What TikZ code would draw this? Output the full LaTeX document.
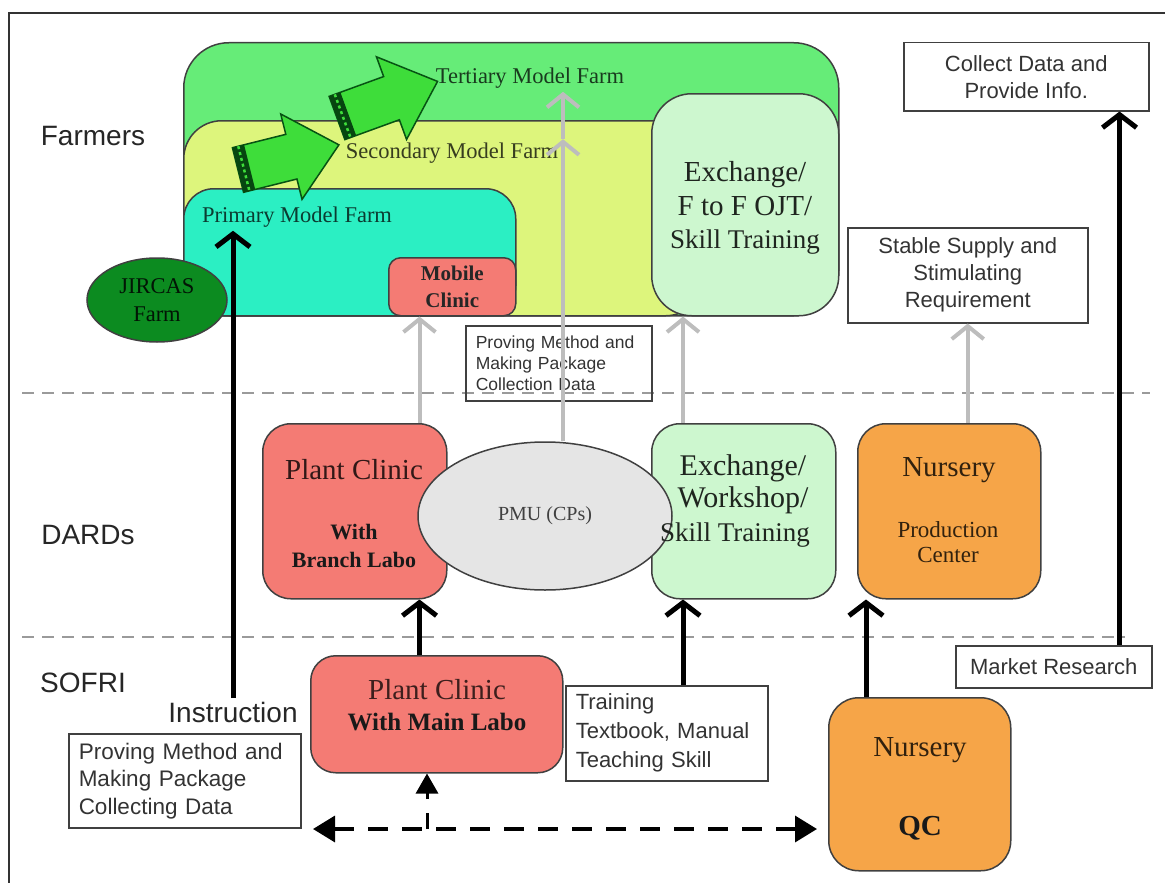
\documentclass[tikz,border=0pt]{standalone}
\usepackage{fontspec}
\setmainfont{Liberation Serif}
\setsansfont{Liberation Sans}
\usetikzlibrary{arrows.meta,shapes.geometric}

\definecolor{tertgreen}{HTML}{66EC78}
\definecolor{secyellow}{HTML}{DDF57C}
\definecolor{primcyan}{HTML}{2BEFC3}
\definecolor{mint}{HTML}{CDF7CF}
\definecolor{salmon}{HTML}{F47B74}
\definecolor{nurseorange}{HTML}{F6A548}
\definecolor{pmugray}{HTML}{E5E5E5}
\definecolor{jircasgreen}{HTML}{0C8B20}
\definecolor{blockgreen}{HTML}{3EDD3A}
\definecolor{arrowgray}{HTML}{BDBDBD}
\definecolor{sepgray}{HTML}{9A9A9A}

\tikzset{
  farmbox/.style={draw=black!75, line width=1.5pt, anchor=north west, inner sep=0pt},
  unitbox/.style={draw=black!75, line width=1.5pt, rounded corners=28pt, anchor=north west, inner sep=0pt},
  infobox/.style={draw=black!75, line width=1.5pt, anchor=north west, inner sep=0pt,
    font=\sffamily\fontsize{22}{27}\selectfont, text=black!80, align=center},
  farmtext/.style={font=\fontsize{22.5}{26}\selectfont},
  bigtext/.style={font=\fontsize{29}{33}\selectfont},
  smalltext/.style={font=\bfseries\fontsize{22}{28}\selectfont},
  sidetext/.style={font=\sffamily\fontsize{28}{32}\selectfont, text=black!85},
  blackarrow/.style={line width=5pt, -{Straight Barb[length=13pt,width=34pt]}},
  grayarrow/.style={arrowgray, line width=4pt, -{Straight Barb[length=13pt,width=32pt]}},
  separator/.style={sepgray, line width=2.5pt, dash pattern=on 12pt off 8pt},
  blockarrow/.style={fill=blockgreen, draw=jircasgreen!60!black, line width=1.5pt}
}

\begin{document}
\begin{tikzpicture}[x=1pt, y=-1pt]
\useasboundingbox (0,0) rectangle (1165,883);

% Frame and level separators
\draw[black!80, line width=1.5pt] (9,883) -- (9,13) -- (1165,13);
\draw[separator] (22,393) -- (1150,393);
\draw[separator] (22,637) -- (1125,637);

% Side labels
\node[sidetext] (farmers) at (93,136) {Farmers};
\node[sidetext] (dards) at (88,535) {DARDs};
\node[sidetext] (sofri) at (83,683) {SOFRI};
\node[sidetext] (instr) at (233,712) {Instruction};

% Model farm levels
\node[farmbox, fill=tertgreen, rounded corners=45pt, minimum width=655pt, minimum height=273pt] (tertiary) at (183,42) {};
\node[farmbox, fill=secyellow, rounded corners=38pt, minimum width=520pt, minimum height=195pt] (secondary) at (183,120) {};
\node[farmbox, fill=mint, rounded corners=40pt, minimum width=187pt, minimum height=222pt] (xchfarm) at (651,93) {};
\node[farmbox, fill=primcyan, rounded corners=30pt, minimum width=332pt, minimum height=127pt] (primary) at (183,188) {};
\node[farmbox, fill=salmon, rounded corners=12pt, minimum width=127pt, minimum height=58pt] (mobile) at (388,257) {};

% Green block arrows between levels
\begin{scope}[shift={(238,170)}, rotate=14]
  \draw[blockarrow] (0,-23) -- (55,-23) -- (55,-44) -- (104,0) -- (55,44) -- (55,23) -- (0,23) -- cycle;
  \fill[jircasgreen!50!black] (0,-23) rectangle (12,23);
  \draw[blockgreen, line width=2.5pt, dash pattern=on 3pt off 3pt] (6,-23) -- (6,23);
\end{scope}
\begin{scope}[shift={(337,118)}, rotate=20]
  \draw[blockarrow] (0,-23) -- (58,-23) -- (58,-44) -- (107,0) -- (58,44) -- (58,23) -- (0,23) -- cycle;
  \fill[jircasgreen!50!black] (0,-23) rectangle (12,23);
  \draw[blockgreen, line width=2.5pt, dash pattern=on 3pt off 3pt] (6,-23) -- (6,23);
\end{scope}

\node[farmtext, text=tertgreen!25!black] (tertlabel) at (530,78) {Tertiary Model Farm};
\node[farmtext, text=secyellow!25!black] (seclabel) at (452,153) {Secondary Model Farm};
\node[farmtext, text=primcyan!25!black] (primlabel) at (297,217) {Primary Model Farm};
\node[font=\bfseries\fontsize{21}{27}\selectfont, text=black!85, align=center] (mobilelabel) at (mobile.center) {Mobile\\Clinic};
\node[font=\fontsize{29}{33.5}\selectfont, text=mint!15!black, align=center] (xchfarmlabel) at (745,208) {Exchange/\\F to F OJT/\\{\fontsize{27}{33.5}\selectfont Skill Training}};

% JIRCAS farm
\node[ellipse, draw=black!75, line width=1.5pt, fill=jircasgreen, minimum width=140pt, minimum height=84pt, inner sep=0pt,
  font=\fontsize{22.5}{28}\selectfont, text=jircasgreen!15!black, align=center] (jircas) at (157,300) {JIRCAS\\Farm};

% Info boxes
\node[infobox, minimum width=245pt, minimum height=68pt] (collect) at (903,42) {Collect Data and\\Provide Info.};
\node[infobox, minimum width=240pt, minimum height=95pt] (stable) at (847,227) {Stable Supply and\\Stimulating\\Requirement};
\node[infobox, minimum width=186pt, minimum height=75pt, text width=166pt, align=left, inner xsep=10pt,
  font=\sffamily\fontsize{17.5}{21}\selectfont] (provemid) at (465,325) {Proving Method and\\Making Package\\Collection Data};
\node[infobox, minimum width=196pt, minimum height=42pt] (market) at (955,645) {Market Research};
\node[infobox, minimum width=202pt, minimum height=95pt, text width=182pt, align=left, inner xsep=10pt,
  font=\sffamily\fontsize{22}{29}\selectfont] (training) at (565,685) {Training\\Textbook, Manual\\Teaching Skill};
\node[infobox, minimum width=232pt, minimum height=94pt, text width=212pt, align=left, inner xsep=10pt,
  font=\sffamily\fontsize{22.5}{27.5}\selectfont] (provebox) at (68,733) {Proving Method and\\Making Package\\Collecting Data};

% DARDs level
\node[unitbox, fill=salmon, minimum width=184pt, minimum height=175pt] (branch) at (262,423) {};
\node[unitbox, fill=mint, minimum width=184pt, minimum height=175pt] (xchwork) at (651,423) {};
\node[unitbox, fill=nurseorange, minimum width=183pt, minimum height=175pt] (nursery) at (857,423) {};
\node[ellipse, draw=black!75, line width=1.5pt, fill=pmugray, minimum width=254pt, minimum height=148pt, inner sep=0pt,
  font=\fontsize{20}{24}\selectfont, text=black!75] (pmu) at (545,516) {PMU (CPs)};

\node[bigtext, text=salmon!20!black] (branchtitle) at (354,470) {Plant Clinic};
\node[smalltext, text=black!90, align=center] (branchsub) at (354,546) {With\\Branch Labo};
\node[font=\fontsize{30}{32}\selectfont, text=mint!15!black, align=center] (xchworklabel) at (743,484) {Exchange/\\Workshop/};
\node[font=\fontsize{27}{30}\selectfont, text=mint!15!black] (xchworkskill) at (735,535) {Skill Training};
\node[bigtext, text=nurseorange!20!black] (nurserytitle) at (949,470) {Nursery};
\node[font=\fontsize{23}{25}\selectfont, text=nurseorange!20!black, align=center] (nurserysub) at (948,542) {Production\\Center};

% SOFRI level
\node[unitbox, fill=salmon, rounded corners=25pt, minimum width=252pt, minimum height=117pt] (mainlabo) at (310,655) {};
\node[unitbox, fill=nurseorange, rounded corners=30pt, minimum width=182pt, minimum height=173pt] (qc) at (828,697) {};
\node[bigtext, text=salmon!25!black] (maintitle) at (437,690) {Plant Clinic};
\node[font=\bfseries\fontsize{25}{28}\selectfont, text=black!90] (mainsub) at (437,722) {With Main Labo};
\node[bigtext, text=nurseorange!20!black] (qctitle) at (920,750) {Nursery};
\node[font=\bfseries\fontsize{29}{32}\selectfont, text=black!90] (qcsub) at (920,828) {QC};

% Gray arrows up to farmers
\draw[grayarrow] ([xshift=-28pt]branch.north east) -- ([xshift=-28pt]branch.north east |- mobile.south);
\draw[grayarrow] ([xshift=18pt]pmu.north) -- ([xshift=18pt]pmu.north |- seclabel.north) coordinate (pmumid);
\draw[grayarrow] (pmumid) -- (pmumid |- tertlabel.south);
\draw[grayarrow] ([xshift=32pt]xchwork.north west) -- ([xshift=32pt]xchwork.north west |- xchfarm.south);
\draw[grayarrow] (stable.south |- nursery.north) -- (stable.south);

% Black arrows
\draw[blackarrow] (instr.north) -- (instr.north |- primlabel.south);
\draw[blackarrow] ([xshift=-28pt]branch.south east |- mainlabo.north) -- ([xshift=-28pt]branch.south east);
\draw[blackarrow] ([xshift=32pt]xchwork.south west |- training.north) -- ([xshift=32pt]xchwork.south west);
\draw[blackarrow] ([xshift=9pt]nursery.south west |- qc.north) -- ([xshift=9pt]nursery.south west);
\draw[blackarrow] ([xshift=-33pt]market.north east) -- ([xshift=-33pt]market.north east |- collect.south);

% Dashed exchange between SOFRI units
\coordinate (dashl) at (313,829);
\coordinate (dashr) at (817,829);
\coordinate (dashmid) at (427,829);
\draw[line width=3.5pt, dash pattern=on 20pt off 14pt, {Triangle[length=22pt,width=26pt]}-{Triangle[length=22pt,width=26pt]}] (dashl) -- (dashr);
\draw[line width=3pt, dash pattern=on 16pt off 14pt, -{Triangle[length=20pt,width=22pt]}] (dashmid) -- (dashmid |- mainlabo.south);

\end{tikzpicture}
\end{document}
